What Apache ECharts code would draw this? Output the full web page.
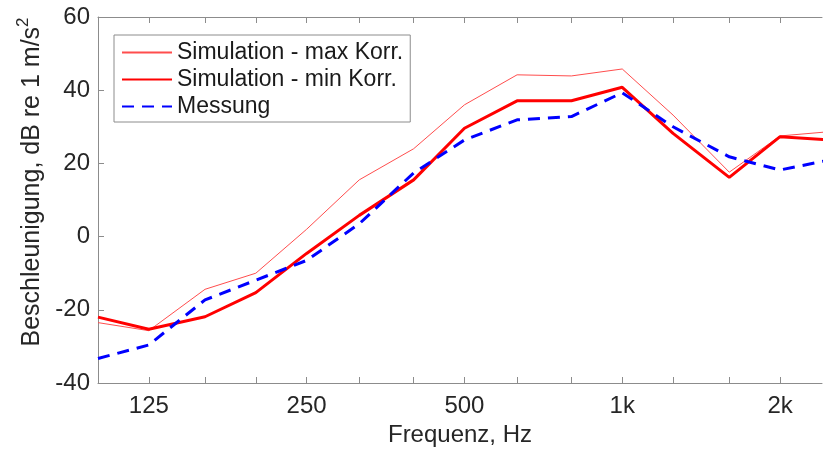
<!DOCTYPE html>
<html>
<head>
<meta charset="utf-8">
<script src="https://cdn.jsdelivr.net/npm/echarts@6/dist/echarts.min.js"></script>
<style>
  html, body { margin: 0; padding: 0; background: #fff; }
  #chart { width: 823px; height: 459px; }
</style>
</head>
<body>
<div id="chart"></div>
<script>
// Terzband-Mittenfrequenzen (Hz)
var freqs = [100, 125, 160, 200, 250, 315, 400, 500, 630, 800, 1000, 1250, 1600, 2000, 2500];
var simMax = [-23.5, -25.7, -14.4, -10, 2, 15.5, 24, 36, 44.2, 43.9, 45.8, 33.2, 17.6, 27.5, 28.7];
var simMin = [-22, -25.3, -21.9, -15.3, -4.6, 5.8, 15.5, 29.6, 37.1, 37.1, 40.8, 28.2, 16.2, 27.3, 26.4];
var messung = [-33.3, -29.6, -17.3, -11.9, -6.5, 3.5, 17.4, 26.4, 31.9, 32.8, 39.3, 30, 21.8, 18.2, 21];
var labelFreqs = [125, 250, 500, 1000, 2000];
var labelTexts = ['125', '250', '500', '1k', '2k'];
var tickFreqs = [125, 160, 200, 250, 315, 400, 500, 630, 800, 1000, 1250, 1600, 2000];

function pairs(vals) {
    return freqs.map(function (f, i) { return [Math.log10(f), vals[i]]; });
}
var lg = function (f) { return Math.log10(f); };

var font = 'Liberation Sans, Arial, sans-serif';
var axisGray = '#8c8c8c';
var textCol = '#262626';

var chart = echarts.init(document.getElementById('chart'));
var option = {
    animation: false,
    grid: { left: 98, right: 1, top: 17, bottom: 76 },
    legend: {
        orient: 'vertical',
        left: 114, top: 35,
        padding: [6, 7, 4, 7],
        itemGap: 4,
        itemWidth: 50, itemHeight: 14,
        borderColor: axisGray, borderWidth: 1,
        backgroundColor: '#fff',
        itemStyle: { opacity: 0 },
        textStyle: { fontFamily: font, fontSize: 23, color: '#1a1a1a' },
        data: ['Simulation - max Korr.', 'Simulation - min Korr.', 'Messung']
    },
    xAxis: [{
        type: 'value',
        min: 2, max: 3.381,
        name: 'Frequenz, Hz',
        nameLocation: 'middle',
        nameGap: 32,
        nameTextStyle: { fontFamily: font, fontSize: 24, color: textCol },
        splitLine: { show: false },
        axisLine: { onZero: false, lineStyle: { color: axisGray } },
        axisTick: { inside: true, length: 6, lineStyle: { color: axisGray }, customValues: tickFreqs.map(lg) },
        axisLabel: {
            fontFamily: font, fontSize: 24, color: textCol, margin: 11,
            customValues: labelFreqs.map(lg),
            formatter: function (v) {
                var idx = labelFreqs.findIndex(function (f) { return Math.abs(lg(f) - v) < 1e-6; });
                return idx >= 0 ? labelTexts[idx] : '';
            }
        }
    }, {
        type: 'value',
        position: 'top',
        min: 2, max: 3.381,
        splitLine: { show: false },
        axisLine: { onZero: false, lineStyle: { color: axisGray } },
        axisTick: { inside: true, length: 6, lineStyle: { color: axisGray }, customValues: tickFreqs.map(lg) },
        axisLabel: { show: false }
    }],
    yAxis: {
        type: 'value',
        min: -40, max: 60, interval: 20,
        name: '{a|Beschleunigung, dB re 1 m/s}{b|2}',
        nameLocation: 'middle',
        nameGap: 48,
        nameTextStyle: {
            fontFamily: font, color: textCol,
            padding: [0, 0, 0, 36],
            rich: {
                a: { fontFamily: font, fontSize: 25, color: textCol, lineHeight: 30, verticalAlign: 'bottom' },
                b: { fontFamily: font, fontSize: 17, color: textCol, lineHeight: 30, verticalAlign: 'top' }
            }
        },
        splitLine: { show: false },
        axisLine: { show: true, onZero: false, lineStyle: { color: axisGray } },
        axisTick: { inside: true, length: 6, lineStyle: { color: axisGray } },
        axisLabel: { fontFamily: font, fontSize: 24, color: textCol, margin: 8 }
    },
    series: [{
        name: 'Simulation - max Korr.',
        type: 'line',
        data: pairs(simMax),
        symbol: 'none',
        color: '#ff4d4d',
        lineStyle: { width: 1, color: '#ff4d4d' }
    }, {
        name: 'Simulation - min Korr.',
        type: 'line',
        data: pairs(simMin),
        symbol: 'none',
        color: '#ff0000',
        lineStyle: { width: 3, color: '#ff0000' }
    }, {
        name: 'Messung',
        type: 'line',
        data: pairs(messung),
        symbol: 'none',
        color: '#0000ff',
        lineStyle: { width: 3, color: '#0000ff', type: [12, 8] }
    }]
};
chart.setOption(option);
</script>
</body>
</html>
